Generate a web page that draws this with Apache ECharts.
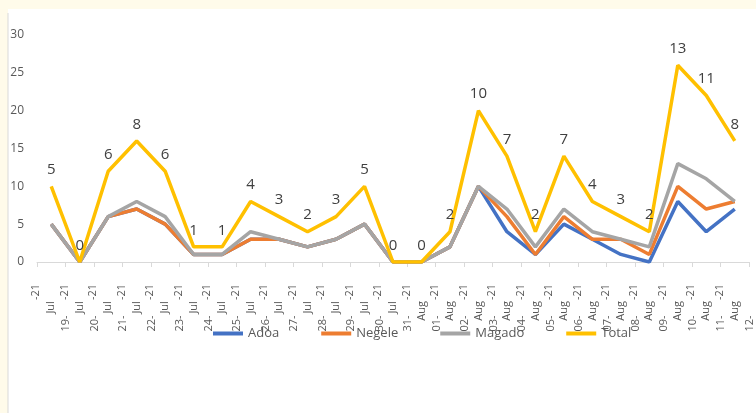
<!DOCTYPE html>
<html>
<head>
<meta charset="utf-8">
<script src="https://cdn.jsdelivr.net/npm/echarts@6/dist/echarts.min.js"></script>
<style>
    html, body {margin: 0; padding: 0; background: #fffbea;}
    #chart {width: 756px; height: 413px;}
</style>
</head>
<body>
<div id="chart"></div>
<script>
// dates on the x axis
var categories = ['19-Jul-21', '20-Jul-21', '21-Jul-21', '22-Jul-21', '23-Jul-21', '24-Jul-21', '25-Jul-21',
    '26-Jul-21', '27-Jul-21', '28-Jul-21', '29-Jul-21', '30-Jul-21', '31-Jul-21', '01-Aug-21', '02-Aug-21',
    '03-Aug-21', '04-Aug-21', '05-Aug-21', '06-Aug-21', '07-Aug-21', '08-Aug-21', '09-Aug-21', '10-Aug-21',
    '11-Aug-21', '12-Aug-21'];
var adoa   = [5, 0, 6, 7, 5, 1, 1, 3, 3, 2, 3, 5, 0, 0, 2, 10, 4, 1, 5, 3, 1, 0, 8, 4, 7];
var negele = [0, 0, 0, 0, 0, 0, 0, 0, 0, 0, 0, 0, 0, 0, 0, 0, 2, 0, 1, 0, 2, 1, 2, 3, 1];
var magado = [0, 0, 0, 1, 1, 0, 0, 1, 0, 0, 0, 0, 0, 0, 0, 0, 1, 1, 1, 1, 0, 1, 3, 4, 0];
var total  = [5, 0, 6, 8, 6, 1, 1, 4, 3, 2, 3, 5, 0, 0, 2, 10, 7, 2, 7, 4, 3, 2, 13, 11, 8];
var yTicks = [0, 5, 10, 15, 20, 25, 30];

var txt = '#595959';
var myEcharts = echarts.init(document.getElementById('chart'));

// excel-like staggered date label: "-21" near the axis, then month, then day
function dateLabel(v) {
    var p = v.split('-');
    return '-' + p[2] + '\n' + p[1] + '      \n' + p[0] + '-           ';
}

function lineSeries(name, data, color) {
    return {
        name: name,
        type: 'line',
        stack: 'all',
        data: data,
        symbol: 'circle',
        symbolSize: 0,
        showAllSymbol: true,
        lineStyle: {color: color, width: 3.5},
        itemStyle: {color: color},
        z: 2
    };
}

var series = [
    lineSeries('Adoa', adoa, '#4472c4'),
    lineSeries('Negele', negele, '#ed7d31'),
    lineSeries('Magado', magado, '#a5a5a5'),
    lineSeries('Total', total, '#ffc000')
];
series[3].label = {
    show: true,
    position: 'top',
    distance: 9,
    color: '#404040',
    fontSize: 15,
    fontFamily: 'Open Sans'
};

var option = {
    animation: false,
    backgroundColor: '#fffbea',
    textStyle: {fontFamily: 'Open Sans'},
    graphic: [{
        type: 'rect',
        z: -10,
        shape: {x: 8, y: 9, width: 748, height: 404},
        style: {fill: '#ffffff'}
    }, {
        type: 'line',
        z: -9,
        shape: {x1: 8, y1: 13, x2: 8, y2: 413},
        style: {stroke: '#d9d9d9', lineWidth: 1}
    }],
    grid: {left: 37, right: 7, top: 35, bottom: 151, outerBoundsMode: 'none'},
    legend: {
        left: 208,
        top: 322,
        icon: 'rect',
        itemWidth: 30,
        itemHeight: 4,
        itemGap: 42,
        textStyle: {color: txt, fontSize: 13, fontFamily: 'Open Sans'},
        data: ['Adoa', 'Negele', 'Magado', 'Total']
    },
    xAxis: {
        type: 'category',
        data: categories,
        boundaryGap: true,
        axisLine: {lineStyle: {color: '#d9d9d9'}},
        axisTick: {show: true, length: 5, lineStyle: {color: '#d9d9d9'}},
        axisLabel: {
            interval: 0,
            rotate: 90,
            margin: 22,
            color: txt,
            fontSize: 11,
            lineHeight: 15,
            padding: [20, 0, 0, 0],
            formatter: dateLabel
        }
    },
    yAxis: {
        type: 'value',
        min: yTicks[0],
        max: yTicks[yTicks.length - 1],
        interval: 5,
        axisLine: {show: false},
        axisTick: {show: false},
        splitLine: {show: false},
        axisLabel: {color: txt, fontSize: 12, margin: 13}
    },
    series: series
};
myEcharts.setOption(option);
</script>
</body>
</html>
